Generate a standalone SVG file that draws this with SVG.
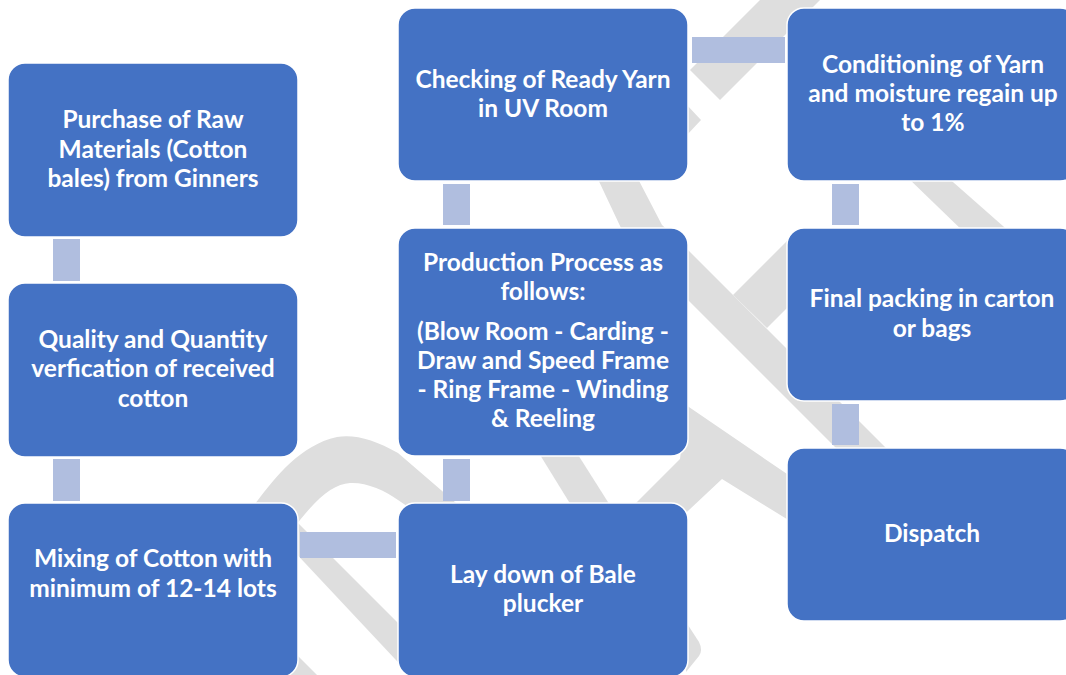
<svg xmlns="http://www.w3.org/2000/svg" width="1066" height="675" viewBox="0 0 1066 675">
<style>
.box{fill:#4472C4;stroke:#FFFFFF;stroke-width:1.5}
.lbl{font-family:Lato,"Liberation Sans",sans-serif;font-weight:700;font-size:24.5px;fill:#FFFFFF;text-anchor:middle}
.con{fill:#B0BEDF}
.wm{fill:#DEDEDE}
</style>
<rect x="0" y="0" width="1066" height="675" fill="#FFFFFF"/>
<g id="watermark">
<polygon class="wm" points="596,175 636,175 662,225 672,234 890,452 840,452 640,252 621,228"/>
<polygon class="wm" points="733,295 795,233 830,265 767,328"/>
<polygon class="wm" points="686,405 790,476 790,521 722,479 640,556 620,519 680,459"/>
<polygon class="wm" points="537,450 575,450 613,510 574,510"/>
<path class="wm" d="M686,622 L699,642 Q703,650 699,656 L686,672 Z"/>
<path class="wm" d="M240,522 L258,500 C275,478 300,445 337,437 C355,434 375,440 398,453 L470,515 L420,515 L398,500 C385,490 365,482 350,483 C335,484 320,495 300,520 L285,540 Z"/>
<polygon class="wm" points="290,515 410,635 410,675 290,547"/>
<polygon class="wm" points="290,648 332,690 290,690"/>
<polygon class="wm" points="760,0 690,70 720,100 820,0"/>
<polygon class="wm" points="686,104 701,120 686,136"/>
<polygon class="wm" points="905,175 945,175 1012,234 966,234"/>
</g>
<g id="connectors">
<rect class="con" x="53" y="239" width="27" height="42"/>
<rect class="con" x="53" y="459" width="27" height="42"/>
<rect class="con" x="300" y="532" width="96" height="26"/>
<rect class="con" x="443" y="459" width="27" height="42"/>
<rect class="con" x="443" y="184" width="27" height="41"/>
<rect class="con" x="692" y="37" width="93" height="26"/>
<rect class="con" x="832" y="184" width="27" height="41"/>
<rect class="con" x="832" y="404" width="27" height="41"/>
</g>
<g id="purchase">
<rect class="box" x="8" y="63" width="290" height="174" rx="17"/>
<text class="lbl" x="153" y="128">Purchase of Raw</text>
<text class="lbl" x="153" y="158">Materials (Cotton</text>
<text class="lbl" x="153" y="187">bales) from Ginners</text>
</g>
<g id="quality">
<rect class="box" x="8" y="283" width="290" height="174" rx="17"/>
<text class="lbl" x="153" y="348">Quality and Quantity</text>
<text class="lbl" x="153" y="377">verfication of received</text>
<text class="lbl" x="153" y="407">cotton</text>
</g>
<g id="mixing">
<rect class="box" x="8" y="503" width="290" height="174" rx="17"/>
<text class="lbl" x="153" y="567">Mixing of Cotton with</text>
<text class="lbl" x="153" y="597">minimum of 12-14 lots</text>
</g>
<g id="laydown">
<rect class="box" x="398" y="503" width="290" height="174" rx="17"/>
<text class="lbl" x="543" y="583">Lay down of Bale</text>
<text class="lbl" x="543" y="612">plucker</text>
</g>
<g id="production">
<rect class="box" x="398" y="228" width="290" height="228" rx="17"/>
<text class="lbl" x="543" y="271">Production Process as</text>
<text class="lbl" x="543" y="300">follows:</text>
<text class="lbl" x="543" y="340">(Blow Room - Carding -</text>
<text class="lbl" x="543" y="369">Draw and Speed Frame</text>
<text class="lbl" x="543" y="398">- Ring Frame - Winding</text>
<text class="lbl" x="543" y="427">&amp; Reeling</text>
</g>
<g id="checking">
<rect class="box" x="398" y="8" width="290" height="173" rx="17"/>
<text class="lbl" x="543" y="88">Checking of Ready Yarn</text>
<text class="lbl" x="543" y="117">in UV Room</text>
</g>
<g id="conditioning">
<rect class="box" x="787" y="8" width="290" height="173" rx="17"/>
<text class="lbl" x="933" y="73">Conditioning of Yarn</text>
<text class="lbl" x="933" y="102">and moisture regain up</text>
<text class="lbl" x="933" y="131">to 1%</text>
</g>
<g id="final">
<rect class="box" x="787" y="228" width="290" height="173" rx="17"/>
<text class="lbl" x="932" y="307">Final packing in carton</text>
<text class="lbl" x="932" y="337">or bags</text>
</g>
<g id="dispatch">
<rect class="box" x="787" y="448" width="290" height="173" rx="17"/>
<text class="lbl" x="932" y="542">Dispatch</text>
</g>
</svg>
